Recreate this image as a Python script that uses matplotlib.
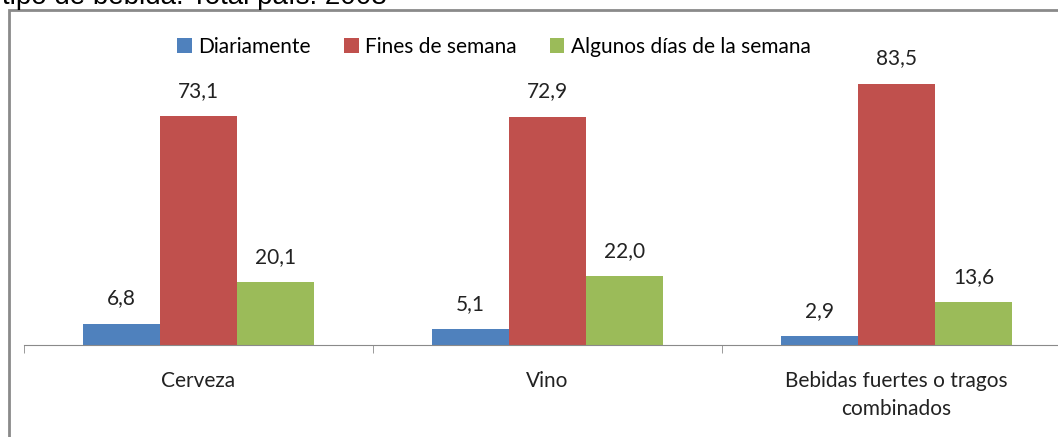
import numpy as np
import matplotlib
matplotlib.use("Agg")
from matplotlib import pyplot as plt
from matplotlib.patches import Rectangle

# Data
categories = ["Cerveza", "Vino", "Bebidas fuertes o tragos\ncombinados"]
series_names = ["Diariamente", "Fines de semana", "Algunos días de la semana"]
diariamente = [6.8, 5.1, 2.9]
fines_semana = [73.1, 72.9, 83.5]
algunos_dias = [20.1, 22.0, 13.6]
colors = ["#4F81BD", "#C0504D", "#9BBB59"]

W, H = 1058, 437
fig = plt.figure(figsize=(W / 100, H / 100), dpi=100)
plt.rcParams['font.family'] = ['Lato', 'DejaVu Sans']

# cut-off title line at the very top
fig.text(2 / W, 1 - 4.5 / H, "tipo de bebida. Total país. 2008", fontsize=20,
         family="Liberation Sans", va="baseline", ha="left")

# grey chart frame (runs off right and bottom edges)
fig.patches.append(Rectangle((9 / W, -0.5), 2.0, 1.5 - 10 / H, transform=fig.transFigure,
                             fill=False, edgecolor="#8a8a8a", linewidth=2, clip_on=False))

ax = fig.add_axes([24 / W, 1 - 345 / H, 1047 / W, 313 / H])
x = np.arange(len(categories))
width = 0.221
offsets = [-width, 0, width]
for vals, off, col, name in zip([diariamente, fines_semana, algunos_dias], offsets, colors, series_names):
    bars = ax.bar(x + off, vals, width, color=col, label=name)
    for b, v in zip(bars, vals):
        ax.annotate(f"{v:.1f}".replace(".", ","), (b.get_x() + b.get_width() / 2, v),
                    xytext=(0, 11), textcoords="offset points", ha="center", va="bottom",
                    fontsize=15, color="#222222")

ax.set_xlim(-0.5, 2.5)
ax.set_ylim(0, 100)
for s in ["top", "right", "left"]:
    ax.spines[s].set_visible(False)
ax.spines["bottom"].set_color("#8a8a8a")
ax.set_yticks([])
ax.set_xticks(x)
ax.set_xticklabels(categories, fontsize=15, color="#222222", linespacing=1.5)
ax.tick_params(axis="x", which="major", length=0, pad=19)
ax.set_xticks([-0.5, 0.5, 1.5, 2.5], minor=True)
ax.tick_params(axis="x", which="minor", length=6, color="#8a8a8a", direction="out")

fig.legend(loc="center", bbox_to_anchor=(494 / W, 1 - 47 / H), ncol=3, frameon=False,
           fontsize=15, handlelength=0.7, handleheight=0.7, handletextpad=0.3, columnspacing=1.6)

plt.savefig("out.png", dpi=100)
